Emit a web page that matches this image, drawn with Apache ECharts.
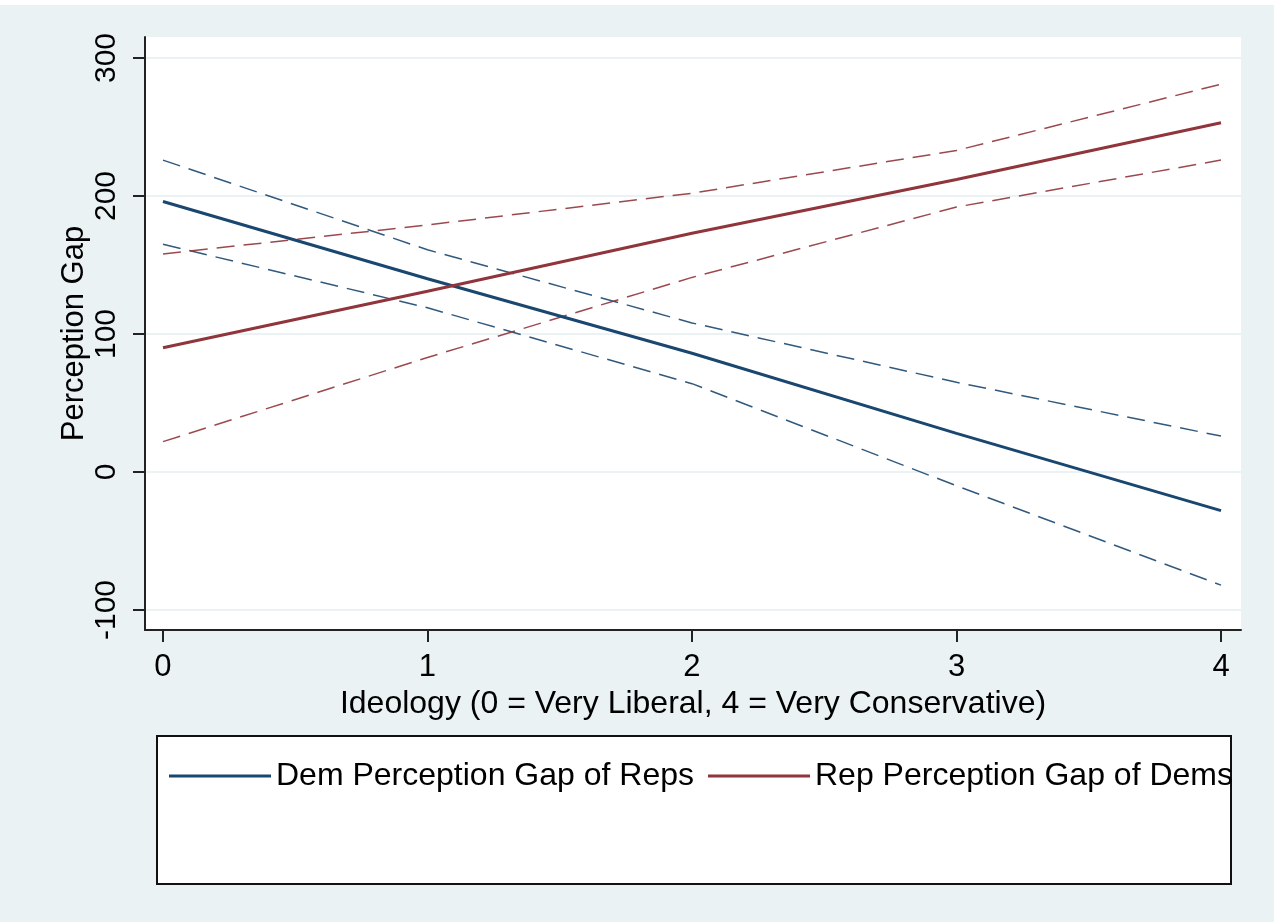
<!DOCTYPE html>
<html>
<head>
<meta charset="utf-8">
<script src="https://cdn.jsdelivr.net/npm/echarts@6/dist/echarts.min.js"></script>
<style>
  html, body { margin: 0; padding: 0; background: #ffffff; }
  #chart { width: 1274px; height: 922px; background: linear-gradient(to bottom, #ffffff 0px, #ffffff 5px, #eaf2f3 5px, #eaf2f3 100%); }
</style>
</head>
<body>
<div id="chart"></div>
<script>
// Data
const ideology = [0, 1, 2, 3, 4];
const demGap      = [196, 140, 86, 28, -28];
const demGapUpper = [226, 161, 108, 65, 26];
const demGapLower = [165, 119, 64, -10, -82];
const repGap      = [90, 131, 173, 212, 253];
const repGapUpper = [158, 179, 202, 233, 281];
const repGapLower = [22, 83, 141, 192, 226];
const xTicks = [0, 1, 2, 3, 4];
const yTicks = [-100, 0, 100, 200, 300];

const BLUE = '#1a476f';
const RED = '#90353b';
const FONT = 'Liberation Sans, Arial, sans-serif';

function pts(ys) { return ideology.map((x, i) => [x, ys[i]]); }

function ciSeries(name, ys, color) {
  return {
    name: name, type: 'line', data: pts(ys), symbol: 'none', silent: true,
    lineStyle: { color: color, width: 1.5, type: [18, 9], opacity: 0.9 },
    z: 2
  };
}
function mainSeries(name, ys, color) {
  return {
    name: name, type: 'line', data: pts(ys), symbol: 'none',
    itemStyle: { color: color },
    lineStyle: { color: color, width: 3 },
    z: 3
  };
}

const chart = echarts.init(document.getElementById('chart'), null, { renderer: 'canvas' });
chart.setOption({
  backgroundColor: 'transparent',
  animation: false,
  textStyle: { fontFamily: FONT },
  grid: {
    left: 145, right: 33, top: 37, bottom: 292,
    show: true, backgroundColor: '#ffffff', borderWidth: 0
  },
  xAxis: {
    type: 'value', min: -0.068, max: 4.0756,
    name: 'Ideology (0 = Very Liberal, 4 = Very Conservative)',
    nameLocation: 'middle', nameGap: 58, nameMoveOverlap: false,
    nameTextStyle: { fontSize: 32, color: '#000', fontFamily: FONT },
    axisLine: { show: true, onZero: false, lineStyle: { color: '#222', width: 2 } },
    axisTick: { show: true, length: 12, customValues: xTicks, lineStyle: { color: '#222', width: 2 } },
    axisLabel: { customValues: xTicks, fontSize: 31, color: '#000', margin: 22, fontFamily: FONT },
    splitLine: { show: false }
  },
  yAxis: {
    type: 'value', min: -114.5, max: 315.2,
    name: 'Perception Gap',
    nameLocation: 'middle', nameGap: 55, nameMoveOverlap: false,
    nameTextStyle: { fontSize: 31, color: '#000', fontFamily: FONT },
    axisLine: { show: true, onZero: false, lineStyle: { color: '#222', width: 2 } },
    axisTick: { show: true, length: 12, customValues: yTicks, lineStyle: { color: '#222', width: 2 } },
    axisLabel: { customValues: yTicks, rotate: 90, fontSize: 30, color: '#000', margin: 23, fontFamily: FONT },
    splitLine: { show: true, lineStyle: { color: '#eaf2f3', width: 2 } }
  },
  legend: {
    data: ['Dem Perception Gap of Reps', 'Rep Perception Gap of Dems'],
    left: 164, top: 755, icon: 'rect', itemWidth: 102, itemHeight: 3, itemGap: 14,
    textStyle: { fontSize: 32, color: '#000', fontFamily: FONT },
    z: 5
  },
  graphic: [{
    type: 'rect', left: 156, top: 735, z: 1,
    shape: { width: 1074, height: 148 },
    style: { fill: '#ffffff', stroke: '#111', lineWidth: 2 }
  }],
  series: [
    ciSeries('Dem upper', demGapUpper, BLUE),
    ciSeries('Dem lower', demGapLower, BLUE),
    ciSeries('Rep upper', repGapUpper, RED),
    ciSeries('Rep lower', repGapLower, RED),
    mainSeries('Dem Perception Gap of Reps', demGap, BLUE),
    mainSeries('Rep Perception Gap of Dems', repGap, RED)
  ]
});
</script>
</body>
</html>
